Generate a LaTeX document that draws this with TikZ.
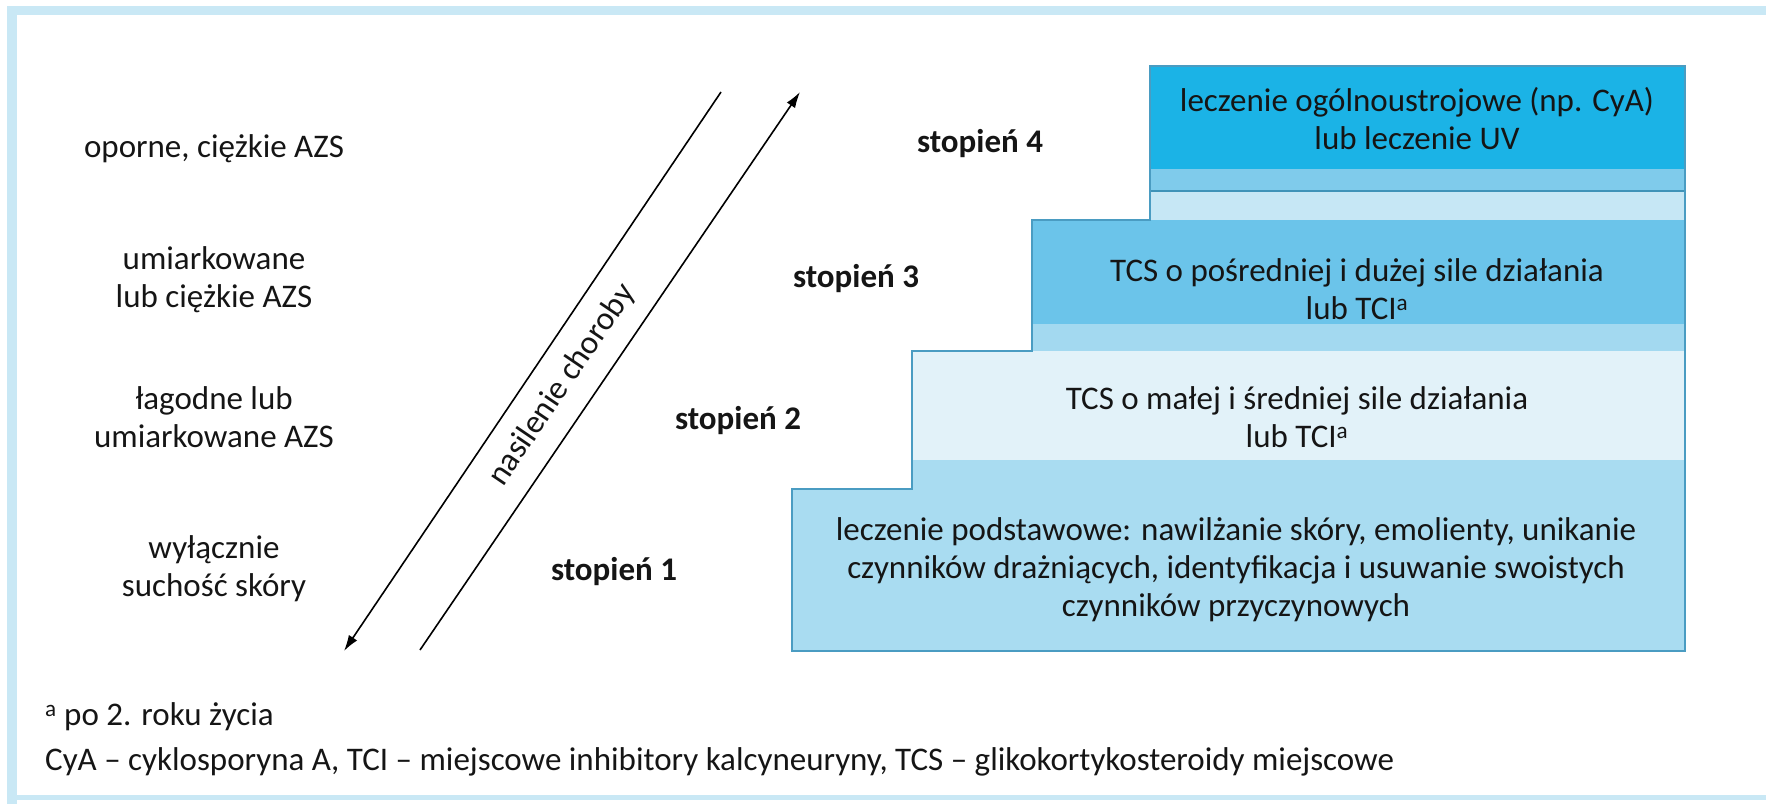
\documentclass[tikz,border=0pt]{standalone}
\usepackage{fontspec}
\setmainfont{Carlito}
\usetikzlibrary{arrows.meta}
\definecolor{framec}{HTML}{C9E8F5}
\definecolor{topc}{HTML}{1BB3E6}
\definecolor{bandA}{HTML}{7FCBEB}
\definecolor{lineA}{HTML}{3F93B8}
\definecolor{bandB}{HTML}{C6E7F5}
\definecolor{stepthree}{HTML}{6BC4EA}
\definecolor{bandC}{HTML}{A3D9F0}
\definecolor{steptwo}{HTML}{E2F2F9}
\definecolor{stepone}{HTML}{A9DCF1}
\definecolor{edgec}{HTML}{4A9CC2}
\definecolor{txt}{HTML}{151515}
\begin{document}
\begin{tikzpicture}[x=1pt,y=-1pt,
  lbl/.style={align=center,font=\fontsize{33}{38}\selectfont,inner sep=0pt,text=txt},
  stp/.style={font=\fontsize{33}{38}\selectfont\bfseries,inner sep=0pt,text=txt},
  boxtxt/.style={align=center,font=\fontsize{33}{38}\selectfont,inner sep=0pt,text=txt},
  arr/.style={line width=1.6pt,-{Latex[length=16pt,width=10pt]}}]
\useasboundingbox (0,0) rectangle (1766,804);
% frame
\fill[framec] (7,6) rectangle (1766,15);
\fill[framec] (7,6) rectangle (17,804);
\fill[framec] (7,795) rectangle (1766,800);
% staircase
\fill[stepone] (792,489) -- (912,489) -- (912,460) -- (1685,460) -- (1685,651) -- (792,651) -- cycle;
\fill[steptwo] (912,351) rectangle (1685,460);
\fill[bandC] (1032,324) rectangle (1685,351);
\fill[stepthree] (1032,220) rectangle (1685,324);
\fill[bandB] (1150,191) rectangle (1685,220);
\fill[bandA] (1150,169) rectangle (1685,191);
\fill[topc] (1150,66) rectangle (1685,169);
\draw[lineA,line width=1.5pt] (1150,191) -- (1685,191);
\draw[edgec,line width=1.5pt] (792,651) -- (792,489) -- (912,489) -- (912,351) -- (1032,351) -- (1032,220) -- (1150,220) -- (1150,66) -- (1685,66) -- (1685,651) -- cycle;
% left labels
\node[lbl] (s4l) at (214,149) {oporne, ciężkie AZS};
\node[lbl] (s3l) at (214,280) {umiarkowane\\lub ciężkie AZS};
\node[lbl] (s2l) at (214,417) {łagodne lub\\umiarkowane AZS};
\node[lbl] (s1l) at (214,569) {wyłącznie\\suchość skóry};
% arrows
\coordinate (a1) at (721,92);
\coordinate (a2) at (344,651);
\coordinate (b1) at (420,650);
\coordinate (b2) at (800,92);
\draw[arr] (a1) -- (a2);
\draw[arr] (b1) -- (b2);
\node[lbl,rotate=55.8] (sev) at (562,385) {nasilenie choroby};
% stage labels
\node[stp] (st4) at (980,144) {stopień 4};
\node[stp] (st3) at (856,279) {stopień 3};
\node[stp] (st2) at (738,421) {stopień 2};
\node[stp] (st1) at (614,572) {stopień 1};
% box texts
\node[boxtxt] (t4) at (1417,119) {leczenie ogólnoustrojowe (np. CyA)\\lub leczenie UV};
\node[boxtxt] (t3) at (1357,289) {TCS o pośredniej i dużej sile działania\\lub TCI\textsuperscript{a}};
\node[boxtxt] (t2) at (1297,417) {TCS o małej i średniej sile działania\\lub TCI\textsuperscript{a}};
\node[boxtxt] (t1) at (1236,570) {leczenie podstawowe: nawilżanie skóry, emolienty, unikanie\\czynników drażniących, identyfikacja i usuwanie swoistych\\czynników przyczynowych};
% footnotes
\node[lbl,anchor=west] (f1) at (45,717) {\textsuperscript{a} po 2. roku życia};
\node[lbl,anchor=west] (f2) at (45,762) {CyA – cyklosporyna A, TCI – miejscowe inhibitory kalcyneuryny, TCS – glikokortykosteroidy miejscowe};
\end{tikzpicture}
\end{document}
